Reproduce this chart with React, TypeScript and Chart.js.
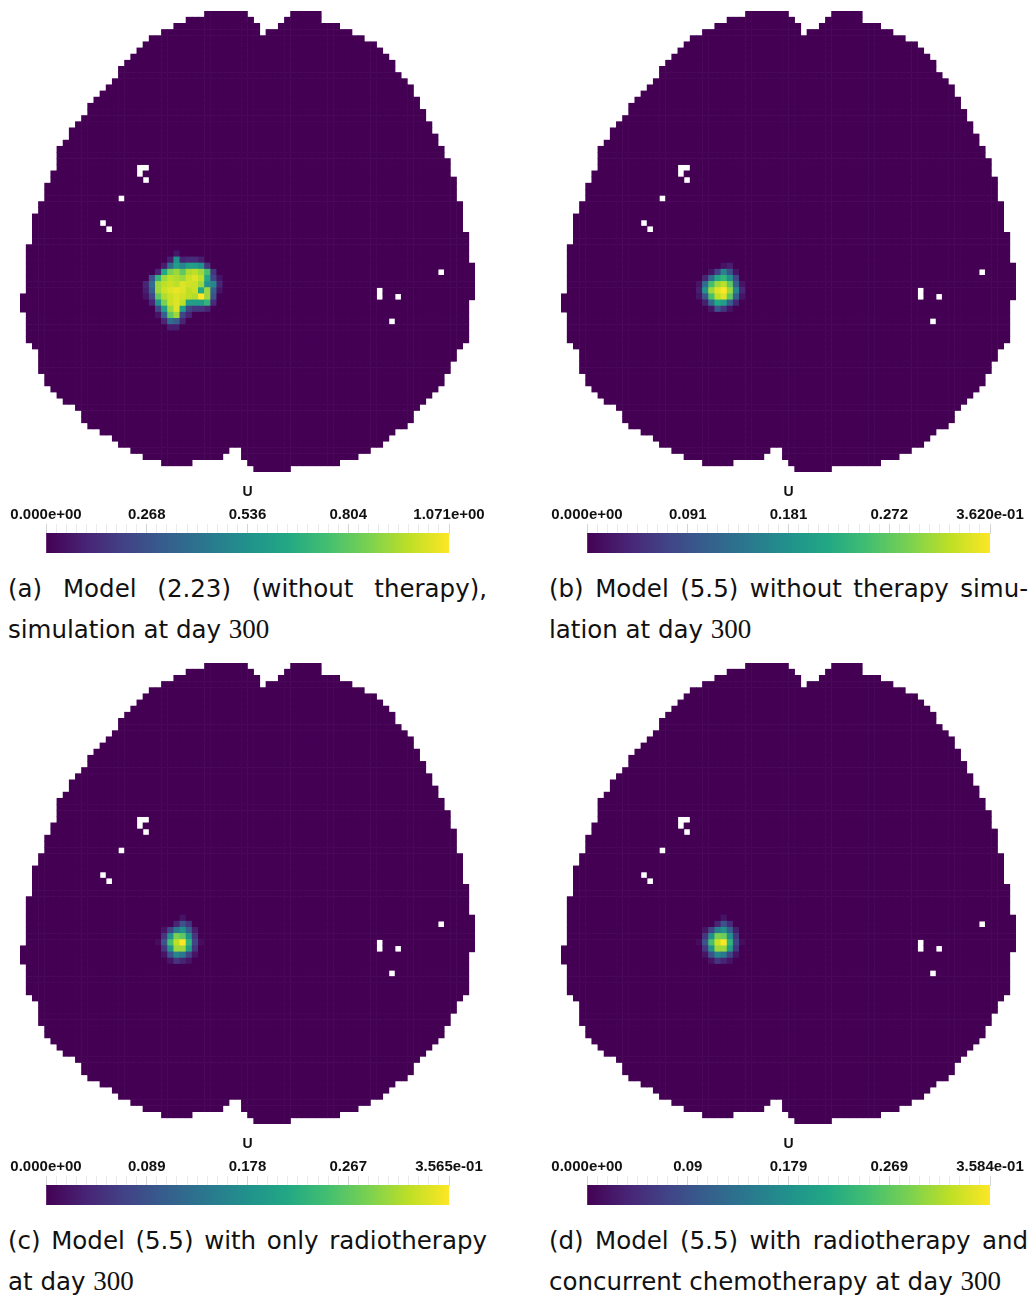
import React, { useEffect, useRef } from 'react';
import { Chart, registerables } from 'chart.js';

Chart.register(...registerables);

// ---------------- DATA ----------------
// Brain mask: for each grid row (top to bottom), pairs of [firstCol, lastCol] (inclusive)
const ROW_SPANS: number[][] = [
  [30, 36, 44, 48],
  [27, 37, 43, 48],
  [25, 38, 42, 51],
  [23, 38, 40, 53],
  [21, 55],
  [20, 57],
  [19, 58],
  [18, 59],
  [17, 60],
  [16, 60],
  [16, 61],
  [15, 62],
  [14, 63],
  [13, 63],
  [12, 64],
  [11, 64],
  [11, 65],
  [10, 65],
  [9, 66],
  [8, 66],
  [8, 67],
  [7, 67],
  [6, 68],
  [6, 68],
  [6, 69],
  [6, 69],
  [5, 69],
  [5, 70],
  [4, 70],
  [4, 70],
  [4, 70],
  [3, 71],
  [3, 71],
  [2, 71],
  [2, 71],
  [2, 71],
  [2, 72],
  [2, 72],
  [1, 72],
  [1, 72],
  [1, 72],
  [1, 73],
  [1, 73],
  [1, 73],
  [1, 73],
  [1, 73],
  [0, 73],
  [0, 72],
  [0, 72],
  [1, 72],
  [1, 72],
  [1, 72],
  [1, 72],
  [1, 72],
  [2, 71],
  [3, 70],
  [3, 70],
  [3, 69],
  [3, 69],
  [4, 68],
  [4, 68],
  [5, 67],
  [6, 66],
  [7, 65],
  [9, 64],
  [10, 63],
  [10, 63],
  [11, 62],
  [13, 60],
  [15, 59],
  [16, 58],
  [18, 33, 36, 56],
  [20, 32, 36, 54],
  [23, 27, 37, 51],
  [38, 43],
];
const N_COLS = 74;
const N_ROWS = 75;

// Cells outside the mesh (white holes): [row, col]
const HOLES: number[][] = [
  [25, 19], [25, 20], [26, 19], [27, 20],
  [30, 16], [34, 13], [35, 14],
  [42, 68], [45, 58], [46, 58], [46, 61], [50, 60],
];

// Tumour density, relative to each panel's colour-bar maximum. Origin = [row, col] of element [0][0]
const TUMOR_A_ORIGIN = [39, 20];
const TUMOR_A: number[][] = [
  [0, 0, 0, 0, 0, 0.06, 0, 0, 0, 0, 0, 0, 0],
  [0, 0, 0, 0, 0.08, 0.5, 0.1, 0.12, 0.12, 0.08, 0, 0, 0],
  [0, 0, 0, 0.08, 0.35, 0.55, 0.45, 0.55, 0.55, 0.5, 0.15, 0, 0],
  [0, 0, 0.1, 0.6, 0.8, 0.85, 0.75, 0.88, 0.9, 0.85, 0.7, 0.15, 0],
  [0, 0.25, 0.65, 0.85, 0.9, 0.88, 0.85, 0.92, 0.95, 0.9, 0.6, 0.2, 0.05],
  [0.1, 0.35, 0.85, 0.9, 0.92, 0.9, 0.95, 0.93, 0.92, 0.85, 0.5, 0.45, 0.1],
  [0.08, 0.3, 0.85, 0.92, 0.95, 0.97, 0.95, 0.9, 0.92, 0.6, 0.85, 0.3, 0.05],
  [0.05, 0.2, 0.75, 0.88, 0.92, 0.95, 0.93, 0.9, 0.88, 1.0, 0.85, 0.25, 0],
  [0, 0.1, 0.5, 0.8, 0.92, 0.95, 0.9, 0.55, 0.55, 0.55, 0.65, 0.12, 0],
  [0, 0, 0.2, 0.55, 0.85, 0.95, 0.55, 0.2, 0.15, 0.15, 0.1, 0, 0],
  [0, 0, 0.05, 0.3, 0.75, 0.85, 0.2, 0.1, 0, 0, 0, 0, 0],
  [0, 0, 0, 0.1, 0.35, 0.3, 0.1, 0, 0, 0, 0, 0, 0],
  [0, 0, 0, 0, 0.08, 0.08, 0, 0, 0, 0, 0, 0, 0],
];

const TUMOR_B_ORIGIN = [41, 22];
const TUMOR_B: number[][] = [
  [0, 0, 0, 0, 0.05, 0.08, 0, 0],
  [0, 0, 0.05, 0.2, 0.45, 0.25, 0.05, 0],
  [0, 0.1, 0.35, 0.6, 0.65, 0.5, 0.2, 0],
  [0.05, 0.35, 0.7, 0.85, 0.9, 0.75, 0.3, 0.05],
  [0.08, 0.5, 0.85, 0.95, 1.0, 0.85, 0.45, 0.1],
  [0.05, 0.25, 0.7, 0.9, 0.95, 0.75, 0.3, 0.05],
  [0, 0.08, 0.35, 0.6, 0.55, 0.3, 0.1, 0],
  [0, 0, 0.05, 0.25, 0.15, 0.05, 0, 0],
];

const TUMOR_C_ORIGIN = [41, 22];
const TUMOR_C: number[][] = [
  [0, 0, 0, 0, 0.05, 0, 0, 0],
  [0, 0, 0, 0.1, 0.25, 0.15, 0, 0],
  [0, 0.05, 0.2, 0.4, 0.5, 0.3, 0.08, 0],
  [0, 0.15, 0.5, 0.8, 0.75, 0.5, 0.15, 0],
  [0.03, 0.25, 0.7, 0.9, 1.0, 0.65, 0.2, 0.03],
  [0, 0.15, 0.5, 0.85, 0.85, 0.55, 0.15, 0],
  [0, 0.05, 0.25, 0.45, 0.4, 0.2, 0.05, 0],
  [0, 0, 0.05, 0.15, 0.1, 0.05, 0, 0],
];

const TUMOR_D_ORIGIN = [41, 22];
const TUMOR_D: number[][] = [
  [0, 0, 0, 0, 0.05, 0, 0, 0],
  [0, 0, 0, 0.1, 0.25, 0.12, 0, 0],
  [0, 0.05, 0.2, 0.42, 0.5, 0.3, 0.08, 0],
  [0, 0.15, 0.5, 0.8, 0.78, 0.5, 0.15, 0],
  [0.03, 0.25, 0.7, 0.92, 1.0, 0.65, 0.2, 0.03],
  [0, 0.15, 0.5, 0.85, 0.85, 0.55, 0.15, 0],
  [0, 0.05, 0.25, 0.45, 0.4, 0.2, 0.05, 0],
  [0, 0, 0.05, 0.15, 0.1, 0.05, 0, 0],
];

// Colour bar ranges and tick labels
const VMAX_A = 1.071;
const VMAX_B = 0.362;
const VMAX_C = 0.3565;
const VMAX_D = 0.3584;
const TICKS_A = ['0.000e+00', '0.268', '0.536', '0.804', '1.071e+00'];
const TICKS_B = ['0.000e+00', '0.091', '0.181', '0.272', '3.620e-01'];
const TICKS_C = ['0.000e+00', '0.089', '0.178', '0.267', '3.565e-01'];
const TICKS_D = ['0.000e+00', '0.09', '0.179', '0.269', '3.584e-01'];
const FIELD_NAME = 'U';

// Captions: [first line, second line text, math number]
const CAPTION_A = ['(a) Model (2.23) (without therapy),', 'simulation at day ', '300'];
const CAPTION_B = ['(b) Model (5.5) without therapy simu-', 'lation at day ', '300'];
const CAPTION_C = ['(c) Model (5.5) with only radiotherapy', 'at day ', '300'];
const CAPTION_D = ['(d) Model (5.5) with radiotherapy and', 'concurrent chemotherapy at day ', '300'];

// Viridis colour map stops
const VIRIDIS = [
  '#440154', '#482475', '#414487', '#355f8d', '#2a788e', '#21918c',
  '#22a884', '#44bf70', '#7ad151', '#bddf26', '#fde725',
];

// ---------------- HELPERS ----------------
function hexToRgb(h: string): number[] {
  return [parseInt(h.slice(1, 3), 16), parseInt(h.slice(3, 5), 16), parseInt(h.slice(5, 7), 16)];
}
const VIR_RGB = VIRIDIS.map(hexToRgb);
function viridis(t: number): string {
  const v = Math.max(0, Math.min(1, t)) * (VIR_RGB.length - 1);
  const i = Math.min(VIR_RGB.length - 2, Math.floor(v));
  const f = v - i;
  const a = VIR_RGB[i];
  const b = VIR_RGB[i + 1];
  const c = a.map((x, k) => Math.round(x + (b[k] - x) * f));
  return `rgb(${c[0]},${c[1]},${c[2]})`;
}

const HM_W = 455;
const HM_H = 461;

function Heatmap(props: { tumor: number[][]; origin: number[]; left: number; top: number }) {
  const ref = useRef<HTMLCanvasElement | null>(null);
  useEffect(() => {
    const holeSet = new Set(HOLES.map(([r, c]) => r * 1000 + c));
    const pts: { x: number; y: number }[] = [];
    const colors: string[] = [];
    ROW_SPANS.forEach((spans, r) => {
      for (let i = 0; i < spans.length; i += 2) {
        for (let c = spans[i]; c <= spans[i + 1]; c++) {
          if (holeSet.has(r * 1000 + c)) continue;
          const tr = r - props.origin[0];
          const tc = c - props.origin[1];
          const row = props.tumor[tr];
          const v = row && row[tc] !== undefined ? row[tc] : 0;
          pts.push({ x: c, y: r });
          colors.push(viridis(v));
        }
      }
    });
    const chart = new Chart(ref.current as HTMLCanvasElement, {
      type: 'scatter',
      data: {
        datasets: [
          {
            data: pts,
            backgroundColor: colors,
            borderWidth: 0,
            pointStyle: 'rect',
            pointRadius: (ctx: any) => {
              const xs = ctx.chart.scales.x;
              const w = Math.abs(xs.getPixelForValue(1) - xs.getPixelForValue(0));
              return (w + 0.6) / Math.SQRT2;
            },
          } as any,
        ],
      },
      options: {
        animation: false,
        responsive: false,
        devicePixelRatio: 1,
        events: [],
        layout: { padding: 0 },
        plugins: { legend: { display: false }, tooltip: { enabled: false } },
        scales: {
          x: { type: 'linear', min: -0.5, max: N_COLS - 0.5, display: false },
          y: { type: 'linear', min: -0.5, max: N_ROWS - 0.5, reverse: true, display: false },
        },
      } as any,
    });
    return () => chart.destroy();
  }, []);
  return (
    <canvas
      ref={ref}
      width={HM_W}
      height={HM_H}
      style={{ position: 'absolute', left: props.left, top: props.top, width: HM_W, height: HM_H }}
    />
  );
}

const CB_W = 495;
const CB_H = 80;

function ColorBar(props: { vmax: number; labels: string[]; left: number; top: number }) {
  const ref = useRef<HTMLCanvasElement | null>(null);
  useEffect(() => {
    const { vmax, labels } = props;
    const tickFont = { family: "'Liberation Sans', Arial, sans-serif", size: 15, weight: 'bold' as const };
    const titleFont = { family: "'Liberation Sans', Arial, sans-serif", size: 14, weight: 'bold' as const };
    const chart = new Chart(ref.current as HTMLCanvasElement, {
      type: 'bar',
      data: {
        labels: [FIELD_NAME],
        datasets: [
          {
            data: [vmax],
            borderWidth: 0,
            barPercentage: 1,
            categoryPercentage: 1,
            backgroundColor: (ctx: any) => {
              const area = ctx.chart.chartArea;
              if (!area) return VIRIDIS[0];
              const g = ctx.chart.ctx.createLinearGradient(area.left, 0, area.right, 0);
              for (let i = 0; i <= 50; i++) g.addColorStop(i / 50, viridis(i / 50));
              return g;
            },
          } as any,
        ],
      },
      options: {
        indexAxis: 'y',
        animation: false,
        responsive: false,
        devicePixelRatio: 1,
        events: [],
        layout: { padding: { left: 46, right: 46, top: 4, bottom: 7 } },
        plugins: { legend: { display: false }, tooltip: { enabled: false } },
        scales: {
          y: { display: false },
          x: {
            type: 'linear',
            position: 'top',
            min: 0,
            max: vmax,
            afterBuildTicks: (s: any) => {
              s.ticks = Array.from({ length: 41 }, (_, i) => ({ value: (vmax * i) / 40 }));
            },
            afterFit: (s: any) => {
              s.height = 49;
            },
            ticks: {
              autoSkip: false,
              maxRotation: 0,
              minRotation: 0,
              padding: 0,
              color: '#111111',
              font: tickFont,
              callback: (_v: any, i: number) => (i % 10 === 0 ? labels[i / 10] : ''),
            },
            grid: {
              drawOnChartArea: false,
              drawTicks: true,
              tickLength: 9,
              lineWidth: 1,
              color: (c: any) => (c.index % 10 === 0 ? '#d4d4d4' : '#ebebeb'),
            },
            border: { display: true, color: '#ddd6e4' },
            title: { display: true, text: FIELD_NAME, padding: 0, color: '#111111', font: titleFont },
          },
        },
      } as any,
    });
    return () => chart.destroy();
  }, []);
  return (
    <canvas
      ref={ref}
      width={CB_W}
      height={CB_H}
      style={{ position: 'absolute', left: props.left, top: props.top, width: CB_W, height: CB_H }}
    />
  );
}

function Caption(props: { lines: string[]; left: number; top: number }) {
  const base: React.CSSProperties = {
    fontFamily: "'DejaVu Sans', sans-serif",
    fontSize: 24.5,
    lineHeight: '41px',
    color: '#111',
    whiteSpace: 'normal',
  };
  return (
    <div style={{ position: 'absolute', left: props.left, top: props.top, width: 479, ...base }}>
      <div style={{ textAlign: 'justify', textAlignLast: 'justify' }}>{props.lines[0]}</div>
      <div style={{ textAlign: 'left', whiteSpace: 'pre' }}>
        {props.lines[1]}
        <span style={{ fontFamily: "'Liberation Serif', 'DejaVu Serif', serif", fontSize: 27 }}>{props.lines[2]}</span>
      </div>
    </div>
  );
}

function Panel(props: {
  dx: number;
  dy: number;
  tumor: number[][];
  origin: number[];
  vmax: number;
  labels: string[];
  caption: string[];
}) {
  const { dx, dy } = props;
  return (
    <>
      <Heatmap tumor={props.tumor} origin={props.origin} left={20 + dx} top={11 + dy} />
      <ColorBar vmax={props.vmax} labels={props.labels} left={dx} top={480 + dy} />
      <Caption lines={props.caption} left={8 + dx} top={568 + dy} />
    </>
  );
}

export default function App() {
  return (
    <div style={{ position: 'absolute', left: 0, top: 0, width: 1030, height: 1298, background: '#fff', overflow: 'hidden' }}>
      <Panel dx={0} dy={0} tumor={TUMOR_A} origin={TUMOR_A_ORIGIN} vmax={VMAX_A} labels={TICKS_A} caption={CAPTION_A} />
      <Panel dx={541} dy={0} tumor={TUMOR_B} origin={TUMOR_B_ORIGIN} vmax={VMAX_B} labels={TICKS_B} caption={CAPTION_B} />
      <Panel dx={0} dy={652} tumor={TUMOR_C} origin={TUMOR_C_ORIGIN} vmax={VMAX_C} labels={TICKS_C} caption={CAPTION_C} />
      <Panel dx={541} dy={652} tumor={TUMOR_D} origin={TUMOR_D_ORIGIN} vmax={VMAX_D} labels={TICKS_D} caption={CAPTION_D} />
    </div>
  );
}
